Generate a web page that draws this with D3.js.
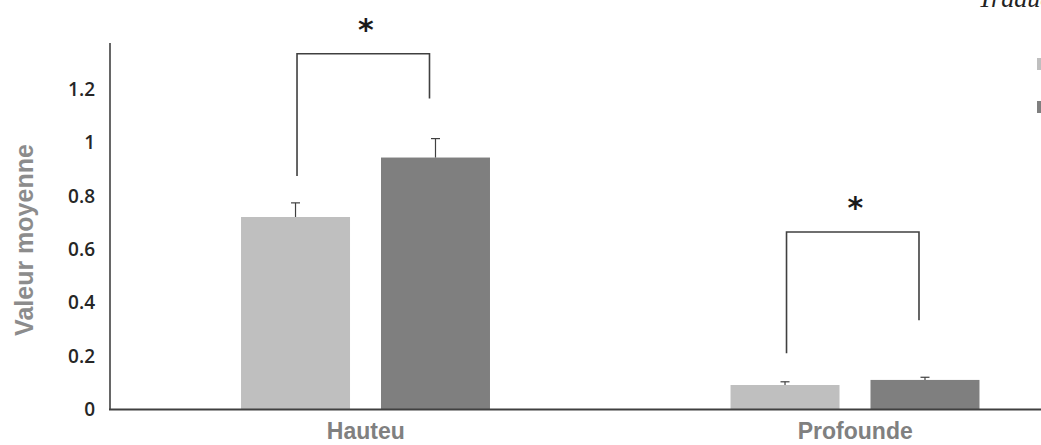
<!DOCTYPE html>
<html>
<head>
<meta charset="utf-8">
<script src="https://cdn.jsdelivr.net/npm/d3@7"></script>
<style>
  html, body { margin: 0; padding: 0; background: #fff; }
  svg { display: block; }
</style>
</head>
<body>
<svg id="chart" width="1041" height="445"></svg>
<script>
// Categories and group means
const categories = ["Hauteu", "Profounde"];
const seriesKeys = ["clair", "fonce"];
const meanClair = [0.72, 0.09];
const meanFonce = [0.943, 0.109];
// Upper error (standard error) for each bar
const errClair = [0.053, 0.012];
const errFonce = [0.071, 0.01];
// Significance brackets: top of bracket and the two feet, in value units
const bracketTop = [1.332, 0.664];
const bracketFootLeft = [0.874, 0.209];
const bracketFootRight = [1.164, 0.333];
const bracketMark = ["*", "*"];
// Y axis ticks
const yTicks = [0, 0.2, 0.4, 0.6, 0.8, 1, 1.2];
const yTickLabels = ["0", "0.2", "0.4", "0.6", "0.8", "1", "1.2"];

const colors = { clair: "#bfbfbf", fonce: "#7f7f7f" };
const ink = "#404040";

const svg = d3.select("#chart");
const W = 1041, H = 445;

const y = d3.scaleLinear().domain([0, 1.2]).range([409, 89]);
const x0 = d3.scaleBand().domain(categories).range([121, 1100]).paddingInner(0).paddingOuter(0);
const step = x0.bandwidth();
const x1 = d3.scaleBand().domain(seriesKeys).range([0.2452 * step, 0.7538 * step]).paddingInner(0.2214).paddingOuter(0);

const data = categories.map((c, i) => ({
  cat: c,
  bars: [
    { key: "clair", v: meanClair[i], e: errClair[i] },
    { key: "fonce", v: meanFonce[i], e: errFonce[i] }
  ],
  top: bracketTop[i], fl: bracketFootLeft[i], fr: bracketFootRight[i], mark: bracketMark[i]
}));

// Bars
const g = svg.append("g");
const groups = g.selectAll("g.grp").data(data).join("g")
  .attr("class", "grp")
  .attr("transform", d => `translate(${x0(d.cat)},0)`);

groups.selectAll("rect").data(d => d.bars).join("rect")
  .attr("x", d => x1(d.key))
  .attr("width", x1.bandwidth())
  .attr("y", d => y(d.v))
  .attr("height", d => y(0) - y(d.v))
  .attr("fill", d => colors[d.key]);

// Error bars (upper only)
groups.selectAll("g.err").data(d => d.bars).join("g")
  .attr("class", "err")
  .each(function(d) {
    const cx = x1(d.key) + x1.bandwidth() / 2;
    const s = d3.select(this);
    s.append("line").attr("x1", cx).attr("x2", cx)
      .attr("y1", y(d.v)).attr("y2", y(d.v + d.e))
      .attr("stroke", ink).attr("stroke-width", 1.2);
    s.append("line").attr("x1", cx - 4.5).attr("x2", cx + 4.5)
      .attr("y1", y(d.v + d.e)).attr("y2", y(d.v + d.e))
      .attr("stroke", ink).attr("stroke-width", 1.2);
  });

// Significance brackets
groups.each(function(d) {
  const s = d3.select(this);
  const xl = x1("clair") + x1.bandwidth() / 2 + 1.5;
  const xr = x1("fonce") + x1.bandwidth() / 2 - 6;
  const path = d3.path();
  path.moveTo(xl, y(d.fl));
  path.lineTo(xl, y(d.top));
  path.lineTo(xr, y(d.top));
  path.lineTo(xr, y(d.fr));
  s.append("path").attr("d", path.toString())
    .attr("fill", "none").attr("stroke", ink).attr("stroke-width", 1.6);
  s.append("text")
    .attr("x", step / 2)
    .attr("y", y(d.top) - 14)
    .attr("text-anchor", "middle")
    .attr("font-family", "DejaVu Sans, sans-serif")
    .attr("font-weight", "bold")
    .attr("font-size", 30)
    .attr("fill", "#1a1a1a")
    .text(d.mark);
});

// Axes
svg.append("line").attr("x1", 110).attr("x2", 110).attr("y1", 43).attr("y2", y(0) + 1)
  .attr("stroke", ink).attr("stroke-width", 1.6);
svg.append("line").attr("x1", 109).attr("x2", W).attr("y1", y(0) + 0.5).attr("y2", y(0) + 0.5)
  .attr("stroke", ink).attr("stroke-width", 1.8);

// Y tick labels
svg.append("g").selectAll("text").data(yTicks).join("text")
  .attr("x", 95)
  .attr("y", d => y(d))
  .attr("dy", "0.36em")
  .attr("text-anchor", "end")
  .attr("font-family", "Open Sans, sans-serif")
  .attr("font-weight", 600)
  .attr("font-size", 19)
  .attr("fill", "#262626")
  .text((d, i) => yTickLabels[i]);

// Category labels
svg.append("g").selectAll("text").data(categories).join("text")
  .attr("x", d => x0(d) + step / 2)
  .attr("y", 439)
  .attr("text-anchor", "middle")
  .attr("font-family", "Liberation Sans, Arial, sans-serif")
  .attr("font-weight", "bold")
  .attr("font-size", 23)
  .attr("fill", "#808080")
  .text(d => d);

// Y axis title
svg.append("text")
  .attr("transform", "translate(33,240) rotate(-90)")
  .attr("text-anchor", "middle")
  .attr("font-family", "Liberation Sans, Arial, sans-serif")
  .attr("font-weight", "bold")
  .attr("font-size", 25)
  .attr("fill", "#8c8c8c")
  .text("Valeur moyenne");

// Legend swatches at the right edge
svg.append("g").selectAll("rect").data(seriesKeys).join("rect")
  .attr("x", 1037)
  .attr("y", (d, i) => 58 + i * 43)
  .attr("width", 12)
  .attr("height", 12)
  .attr("fill", d => colors[d]);

// Caption at the top right
svg.append("text")
  .attr("x", 978)
  .attr("y", 7)
  .attr("font-family", "Liberation Serif, serif")
  .attr("font-style", "italic")
  .attr("font-size", 26)
  .attr("fill", "#222")
  .text("Traduction");
</script>
</body>
</html>
